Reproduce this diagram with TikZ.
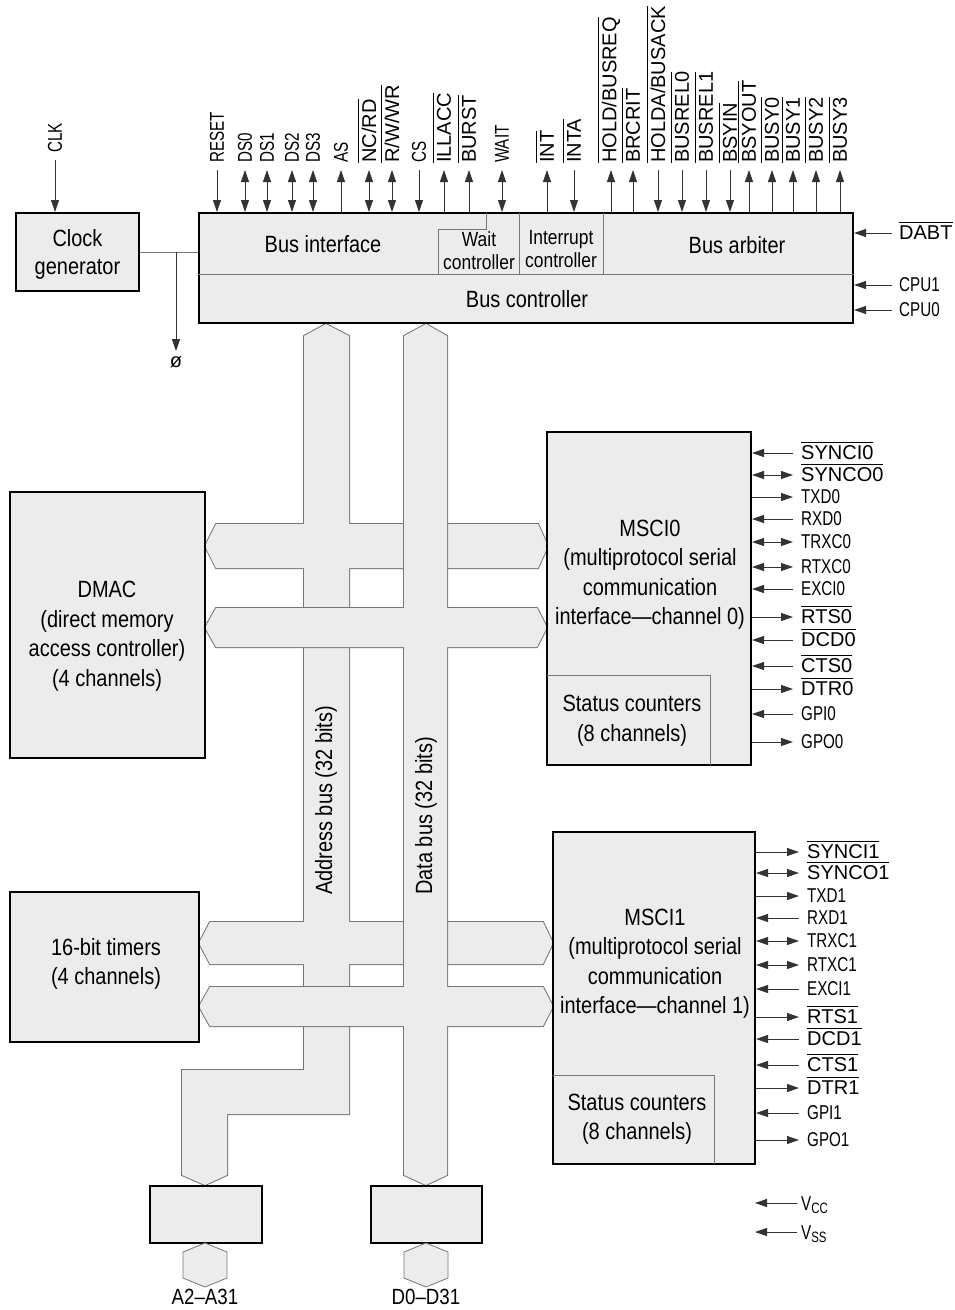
\documentclass[tikz,border=0pt]{standalone}
\usepackage{fontspec}
\setmainfont{Liberation Sans}
\newfontfamily\cnd{Liberation Sans}[FakeStretch=0.85]
\newfontfamily\cndd{Liberation Sans}[FakeStretch=0.76]
\usetikzlibrary{arrows.meta,fit}
\definecolor{dotfill}{RGB}{236,236,236}
\definecolor{busgray}{RGB}{118,118,118}
\newcommand\ovl[1]{\vbox{\hrule height 0.9pt\kern 3pt\hbox{#1}}}
% top signals: name, x, direction, text
\newcommand\tsig[4]{\coordinate (#1-p) at (#2,170);
  \node[sig,rotate=90,anchor=west] (#1) at (#2,163) {#4};
  \draw[wire,#3] (#1-p) -- (#1-p |- main.north);}
\newcommand\tsigo[4]{\coordinate (#1-p) at (#2,170);
  \node[osig,rotate=90,anchor=west] (#1) at (#2-2,163) {\ovl{#4}};
  \draw[wire,#3] (#1-p) -- (#1-p |- main.north);}
% right signals: name, box, xend, y, direction, text
\newcommand\rsig[6]{\coordinate (#1-p) at (#3,#4);
  \node[sig,anchor=west] (#1) at (#3+8,#4) {#6};
  \draw[wire,#5] (#1-p -| #2.east) -- (#1-p);}
\newcommand\rsigo[6]{\coordinate (#1-p) at (#3,#4);
  \node[osig,anchor=west] (#1) at (#3+8,#4-2) {\ovl{#6}};
  \draw[wire,#5] (#1-p -| #2.east) -- (#1-p);}
\begin{document}
\begin{tikzpicture}[x=1pt,y=-1pt,
  >={Triangle[length=12pt,width=8pt]},
  blk/.style={draw=black, line width=2pt, fill=dotfill, inner sep=0pt},
  area/.style={inner sep=0pt},
  txt/.style={font=\cnd\fontsize{23.5}{29.5}\selectfont, align=center, inner sep=0pt},
  stxt/.style={font=\cnd\fontsize{20.5}{23}\selectfont, align=center, inner sep=0pt},
  sig/.style={font=\cndd\fontsize{20}{22}\selectfont, inner sep=0pt},
  osig/.style={font=\fontsize{20}{22}\selectfont, inner sep=0pt},
  wire/.style={line width=0.9pt, draw=black!80},
  thin/.style={line width=0.8pt, draw=busgray},
  busedge/.style={line width=2pt, draw=busgray, line join=miter},
]
\useasboundingbox (0,0) rectangle (955,1310);

% ---------- address bus group ----------
\draw[busedge] (304,336) -- (326,324) -- (349,336) -- (349,1114) -- (227,1114) -- (227,1175) -- (205,1185) -- (182,1175) -- (182,1070) -- (304,1070) -- cycle;
\draw[busedge] (205,546) -- (216,524) -- (538,524) -- (548,546) -- (538,568) -- (216,568) -- cycle;
\draw[busedge] (199,943) -- (210,922) -- (543,922) -- (553,943) -- (543,964) -- (210,964) -- cycle;
\fill[dotfill] (304,336) -- (326,324) -- (349,336) -- (349,1114) -- (227,1114) -- (227,1175) -- (205,1185) -- (182,1175) -- (182,1070) -- (304,1070) -- cycle;
\fill[dotfill] (205,546) -- (216,524) -- (538,524) -- (548,546) -- (538,568) -- (216,568) -- cycle;
\fill[dotfill] (199,943) -- (210,922) -- (543,922) -- (553,943) -- (543,964) -- (210,964) -- cycle;
% ---------- data bus group ----------
\draw[busedge] (404,336) -- (426,324) -- (447,336) -- (447,1175) -- (426,1185) -- (404,1175) -- cycle;
\draw[busedge] (205,627.5) -- (216,608) -- (537,608) -- (547,627.5) -- (537,647) -- (216,647) -- cycle;
\draw[busedge] (199,1006.5) -- (210,987) -- (543,987) -- (553,1006.5) -- (543,1026) -- (210,1026) -- cycle;
\fill[dotfill] (404,336) -- (426,324) -- (447,336) -- (447,1175) -- (426,1185) -- (404,1175) -- cycle;
\fill[dotfill] (205,627.5) -- (216,608) -- (537,608) -- (547,627.5) -- (537,647) -- (216,647) -- cycle;
\fill[dotfill] (199,1006.5) -- (210,987) -- (543,987) -- (553,1006.5) -- (543,1026) -- (210,1026) -- cycle;

\node[txt,rotate=90,anchor=west] (abuslbl) at (326,895) {Address bus (32 bits)};
\node[txt,rotate=90,anchor=west] (dbuslbl) at (426,895) {Data bus (32 bits)};

% ---------- blocks ----------
\node[blk, fit={(16,213) (139,291)}] (clk) {};
\node[blk, fit={(199,213) (853,323)}] (main) {};
\node[blk, fit={(10,492) (205,758)}] (dmac) {};
\node[blk, fit={(10,892) (199,1042)}] (tim) {};
\node[blk, fit={(547,432) (751,765)}] (msci0) {};
\node[blk, fit={(553,832) (755,1164)}] (msci1) {};
\node[blk, fit={(150,1186) (262,1243)}] (abuf) {};
\node[blk, fit={(371,1186) (482,1243)}] (dbuf) {};

\draw[thin, fill=dotfill] (205,1243) -- (227,1252) -- (227,1278) -- (205,1287) -- (183,1278) -- (183,1252) -- cycle;
\draw[thin, fill=dotfill] (426,1243) -- (448,1252) -- (448,1278) -- (426,1287) -- (404,1278) -- (404,1252) -- cycle;
\node[sig, font=\cnd\fontsize{22}{24}\selectfont] (alab) at (205,1297) {A2–A31};
\node[sig, font=\cnd\fontsize{22}{24}\selectfont] (dlab) at (426,1297) {D0–D31};

% main box internals
\draw[thin] (main.west |- 0,274) -- (main.east |- 0,274);
\draw[thin] (486,213) -- (486,229) -- (438,229) -- (438,274);
\draw[thin] (519,213) -- (519,274);
\draw[thin] (603,213) -- (603,274);

% status counter areas
\node[area, fit={(547,676) (710,765)}] (st0) {};
\draw[thin] (st0.north west) -| (st0.south east);
\node[area, fit={(553,1076) (714,1164)}] (st1) {};
\draw[thin] (st1.north west) -| (st1.south east);

% ---------- texts ----------
\node[txt, font=\cnd\fontsize{23.5}{28}\selectfont] (clkt) at (77.5,254) {Clock\\generator};
\node[txt] (bit) at (323,244) {Bus interface};
\node[stxt] (wct) at (479,251) {Wait\\controller};
\node[stxt] (ict) at (561,249) {Interrupt\\controller};
\node[txt] (bat) at (737,245) {Bus arbiter};
\node[txt] (bct) at (527,299) {Bus controller};
\node[txt] (dmact) at (107,636) {DMAC\\(direct memory\\access controller)\\(4 channels)};
\node[txt] (timt) at (106,964) {16-bit timers\\(4 channels)};
\node[txt] (m0t) at (650,574.5) {MSCI0\\(multiprotocol serial\\communication\\interface—channel 0)};
\node[txt] (s0t) at (632,720.5) {Status counters\\(8 channels)};
\node[txt] (m1t) at (655,963.5) {MSCI1\\(multiprotocol serial\\communication\\interface—channel 1)};
\node[txt] (s1t) at (637,1119) {Status counters\\(8 channels)};

% clock
\coordinate (clkin-p) at (55,160);
\node[sig,rotate=90,anchor=west] (clkin) at (55,153) {CLK};
\draw[wire,->] (clkin-p) -- (clkin-p |- clk.north);
\draw[thin] (clk.east) -- (clk.east -| main.west);
\coordinate (phi-j) at (176,252);
\node[osig] (phi) at (176,362) {ø};
\draw[wire,->] (phi-j) -- ([yshift=5pt]phi.north);

% ---------- top signals ----------
\tsig{reset}{217}{->}{RESET}
\tsig{ds0}{245}{<->}{DS0}
\tsig{ds1}{267}{<->}{DS1}
\tsig{ds2}{292}{<->}{DS2}
\tsig{ds3}{313}{<->}{DS3}
\tsig{as}{341}{<-}{AS}
\tsigo{ncrd}{369}{<->}{NC/RD}
\tsigo{rwwr}{392}{<->}{R/W/WR}
\tsig{cs}{419}{->}{CS}
\tsigo{illacc}{444}{<-}{ILLACC}
\tsigo{burst}{469}{<-}{BURST}
\tsig{wait}{502}{<->}{WAIT}
\tsigo{int}{547}{<-}{INT}
\tsigo{inta}{574}{->}{INTA}
\tsigo{hold}{611}{<-}{HOLD/BUSREQ}
\tsigo{brcrit}{633}{<-}{BRCRIT}
\tsigo{holda}{658}{->}{HOLDA/BUSACK}
\tsigo{busrel0}{682}{->}{BUSREL0}
\tsigo{busrel1}{706}{->}{BUSREL1}
\tsigo{bsyin}{730}{->}{BSYIN}
\tsigo{bsyout}{749}{<-}{BSYOUT}
\tsigo{busy0}{772}{<-}{BUSY0}
\tsigo{busy1}{793}{<-}{BUSY1}
\tsigo{busy2}{816}{<-}{BUSY2}
\tsigo{busy3}{840}{<-}{BUSY3}

% right of main box
\coordinate (dabt-p) at (892,233);
\node[osig,anchor=west] (dabt) at (899,231) {\ovl{DABT}};
\draw[wire,->] (dabt-p) -- (dabt-p -| main.east);
\coordinate (cpu1-p) at (892,285);
\node[sig,anchor=west] (cpu1) at (899,285) {CPU1};
\draw[wire,->] (cpu1-p) -- (cpu1-p -| main.east);
\coordinate (cpu0-p) at (892,310);
\node[sig,anchor=west] (cpu0) at (899,310) {CPU0};
\draw[wire,->] (cpu0-p) -- (cpu0-p -| main.east);

% ---------- MSCI0 signals ----------
\rsigo{synci0}{msci0}{793}{453}{<-}{SYNCI0}
\rsigo{synco0}{msci0}{793}{475}{<->}{SYNCO0}
\rsig{txd0}{msci0}{793}{497}{->}{TXD0}
\rsig{rxd0}{msci0}{793}{519}{<-}{RXD0}
\rsig{trxc0}{msci0}{793}{542}{<->}{TRXC0}
\rsig{rtxc0}{msci0}{793}{567}{<->}{RTXC0}
\rsig{exci0}{msci0}{793}{589}{<-}{EXCI0}
\rsigo{rts0}{msci0}{793}{617}{->}{RTS0}
\rsigo{dcd0}{msci0}{793}{640}{<-}{DCD0}
\rsigo{cts0}{msci0}{793}{666}{<-}{CTS0}
\rsigo{dtr0}{msci0}{793}{689}{->}{DTR0}
\rsig{gpi0}{msci0}{793}{714}{<-}{GPI0}
\rsig{gpo0}{msci0}{793}{742}{->}{GPO0}

% ---------- MSCI1 signals ----------
\rsigo{synci1}{msci1}{799}{852}{->}{SYNCI1}
\rsigo{synco1}{msci1}{799}{873}{<->}{SYNCO1}
\rsig{txd1}{msci1}{799}{896}{->}{TXD1}
\rsig{rxd1}{msci1}{799}{918}{<-}{RXD1}
\rsig{trxc1}{msci1}{799}{941}{<->}{TRXC1}
\rsig{rtxc1}{msci1}{799}{965}{<->}{RTXC1}
\rsig{exci1}{msci1}{799}{989}{<-}{EXCI1}
\rsigo{rts1}{msci1}{799}{1017}{->}{RTS1}
\rsigo{dcd1}{msci1}{799}{1039}{<-}{DCD1}
\rsigo{cts1}{msci1}{799}{1065}{<-}{CTS1}
\rsigo{dtr1}{msci1}{799}{1088}{->}{DTR1}
\rsig{gpi1}{msci1}{799}{1113}{<-}{GPI1}
\rsig{gpo1}{msci1}{799}{1140}{->}{GPO1}

% supply
\coordinate (vcc-p) at (797,1203);
\coordinate (vcc-t) at (755,1203);
\node[sig,anchor=west] (vcc) at (801,1205) {V\raisebox{-3pt}{\cndd\fontsize{15}{15}\selectfont CC}};
\draw[wire,->] (vcc-p) -- (vcc-t);
\coordinate (vss-p) at (797,1232);
\coordinate (vss-t) at (755,1232);
\node[sig,anchor=west] (vss) at (801,1234) {V\raisebox{-3pt}{\cndd\fontsize{15}{15}\selectfont SS}};
\draw[wire,->] (vss-p) -- (vss-t);
\end{tikzpicture}
\end{document}
